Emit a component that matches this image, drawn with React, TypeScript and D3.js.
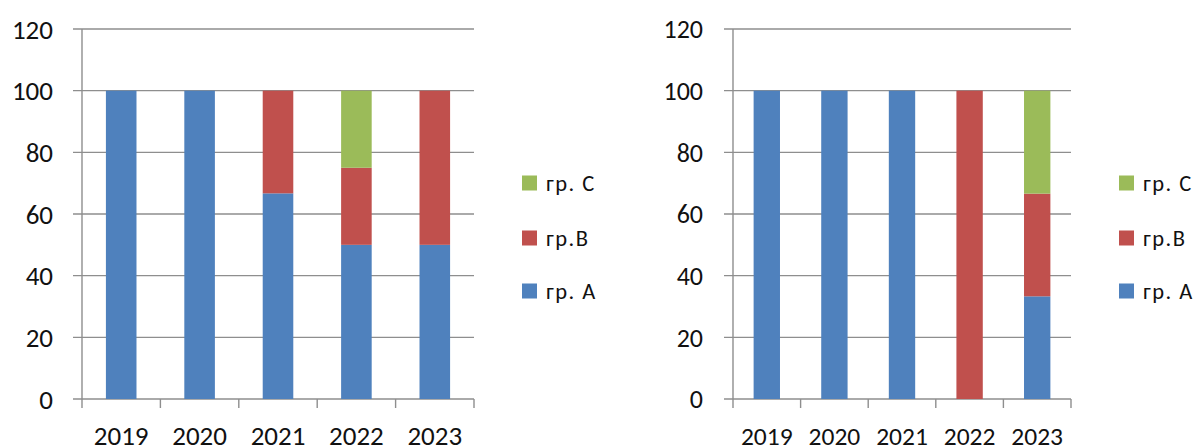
import React from "react";
import * as d3 from "d3";

// Categories and series
const years = ["2019", "2020", "2021", "2022", "2023"];
const seriesKeys = ["A", "B", "C"];
const seriesLabels = ["гр. A", "гр.B", "гр. C"];
const seriesColors = ["#4F81BD", "#C0504D", "#9BBB59"];
const yTicks = [0, 20, 40, 60, 80, 100, 120];

// First panel values (percent share per year)
const leftA = [100, 100, 66.7, 50, 50];
const leftB = [0, 0, 33.3, 25, 50];
const leftC = [0, 0, 0, 25, 0];

// Second panel values
const rightA = [100, 100, 100, 0, 33.3];
const rightB = [0, 0, 0, 100, 33.3];
const rightC = [0, 0, 0, 0, 33.4];

type Row = { year: string; A: number; B: number; C: number };

function buildRows(a: number[], b: number[], c: number[]): Row[] {
  return years.map((year, i) => ({ year, A: a[i], B: b[i], C: c[i] }));
}

type PanelProps = {
  rows: Row[];
  x0: number;
  x1: number;
  labelRight: number;
  fontSize: number;
  xFontSize: number;
  legendX: number;
  legendTextX: number;
};

const FONT = "Carlito, Lato, 'Open Sans', sans-serif";
const GRID = "#8e8e8e";
const TEXT = "#111";
const Y_TOP = 29;
const Y_BOTTOM = 399;
const LEGEND_ROWS = [291, 238, 183]; // A, B, C centres

function Panel({ rows, x0, x1, labelRight, fontSize, xFontSize, legendX, legendTextX }: PanelProps) {
  const y = d3.scaleLinear().domain([0, 120]).range([Y_BOTTOM, Y_TOP]);
  const p = 0.61;
  const x = d3
    .scaleBand<string>()
    .domain(years)
    .range([x0, x1])
    .paddingInner(p)
    .paddingOuter(p / 2);
  const step = x.step();
  const stacked = d3.stack<Row>().keys(seriesKeys)(rows);
  const tickLen = 9;

  return (
    <g>
      {/* horizontal gridlines with left tick marks */}
      {yTicks.map((t) => (
        <g key={t}>
          <line
            x1={x0 - tickLen}
            x2={x1}
            y1={y(t)}
            y2={y(t)}
            stroke={GRID}
            strokeWidth={1.4}
          />
          <text
            x={labelRight}
            y={y(t)}
            dy="0.36em"
            textAnchor="end"
            fontFamily={FONT}
            fontSize={fontSize}
            fill={TEXT}
          >
            {t}
          </text>
        </g>
      ))}
      {/* vertical axis */}
      <line x1={x0} x2={x0} y1={Y_TOP} y2={Y_BOTTOM} stroke={GRID} strokeWidth={1.4} />
      {/* category boundary ticks */}
      {d3.range(years.length + 1).map((i) => (
        <line
          key={i}
          x1={x0 + i * step}
          x2={x0 + i * step}
          y1={Y_BOTTOM}
          y2={Y_BOTTOM + tickLen}
          stroke={GRID}
          strokeWidth={1.4}
        />
      ))}
      {/* stacked bars */}
      {stacked.map((layer, li) =>
        layer.map((d) =>
          d[1] - d[0] > 0 ? (
            <rect
              key={`${li}-${d.data.year}`}
              x={x(d.data.year)}
              y={y(d[1])}
              width={x.bandwidth()}
              height={y(d[0]) - y(d[1])}
              fill={seriesColors[li]}
            />
          ) : null
        )
      )}
      {/* category labels */}
      {years.map((yr) => (
        <text
          key={yr}
          x={(x(yr) as number) + x.bandwidth() / 2}
          y={445}
          textAnchor="middle"
          fontFamily={FONT}
          fontSize={xFontSize}
          fill={TEXT}
        >
          {yr}
        </text>
      ))}
      {/* legend */}
      {seriesKeys.map((k, i) => (
        <g key={k}>
          <rect
            x={legendX}
            y={LEGEND_ROWS[i] - 7.5}
            width={15}
            height={15}
            fill={seriesColors[i]}
          />
          <text
            x={legendTextX}
            y={LEGEND_ROWS[i]}
            dy="0.36em"
            fontFamily={FONT}
            fontSize={22.5}
            letterSpacing={1.5}
            fill={TEXT}
          >
            {seriesLabels[i]}
          </text>
        </g>
      ))}
    </g>
  );
}

export default function App() {
  const leftRows = buildRows(leftA, leftB, leftC);
  const rightRows = buildRows(rightA, rightB, rightC);
  return (
    <svg
      width={1203}
      height={448}
      style={{ position: "absolute", left: 0, top: 0, background: "#fff" }}
    >
      <rect width={1203} height={448} fill="#fff" />
      <Panel
        rows={leftRows}
        x0={82}
        x1={474}
        labelRight={53}
        fontSize={27}
        xFontSize={27}
        legendX={522}
        legendTextX={546}
      />
      <Panel
        rows={rightRows}
        x0={733}
        x1={1071}
        labelRight={703}
        fontSize={26}
        xFontSize={25.5}
        legendX={1119}
        legendTextX={1143}
      />
    </svg>
  );
}
